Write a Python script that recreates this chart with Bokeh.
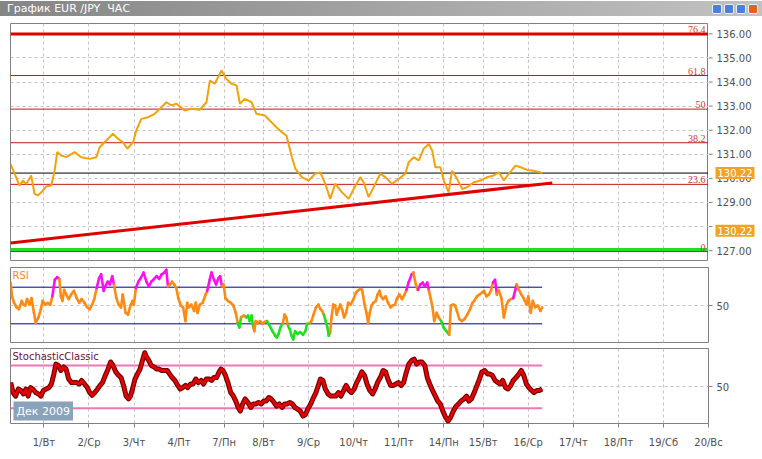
from bokeh.plotting import figure
from bokeh.models import (Range1d, FixedTicker, Label, LabelSet, ColumnDataSource, Div,
                          PrintfTickFormatter, Span, Grid)
from bokeh.layouts import column, row
from bokeh.core.properties import value
from bokeh.embed import file_html
from bokeh.resources import INLINE

FONT = "DejaVu Sans"

# ---------------- data ----------------
title_text = "График EUR /JPY&nbsp;&nbsp;ЧАС"
day_hours = [0, 24, 48, 72, 96, 117, 141, 165, 189, 213, 234, 258, 282, 306, 330, 354]
day_labels = ["1/Вт", "2/Ср", "3/Чт", "4/Пт", "7/Пн", "8/Вт", "9/Ср", "10/Чт", "11/Пт",
              "14/Пн", "15/Вт", "16/Ср", "17/Чт", "18/Пт", "19/Сб", "20/Вс"]
month_label = "Дек 2009"

price_hours = [-17.8, -15.6, -13.0, -11.2, -9.4, -6.8, -5.0, -3.2, -1.4, 1.2, 3.9, 5.7, 7.1, 9.2,
               11.9, 16.4, 19.9, 24.4, 27.9, 29.7, 33.2, 36.8, 39.5, 42.1, 44.4, 47.5, 49.2, 51.9,
               55.5, 59.0, 62.6, 65.2, 67.9, 70.6, 75.0, 78.6, 83.0, 86.6, 88.4, 91.0, 94.6, 97.2,
               99.9, 102.6, 104.4, 107.0, 110.6, 113.2, 117.7, 121.2, 123.9, 126.6, 129.2, 132.1,
               133.9, 137.4, 141.0, 144.5, 147.2, 149.9, 152.5, 155.2, 158.8, 162.3, 165.0, 168.5,
               170.3, 173.0, 176.5, 179.2, 181.9, 185.4, 189.0, 192.5, 194.3, 197.0, 199.6, 202.3,
               205.0, 206.8, 208.5, 211.2, 213.0, 215.6, 217.4, 220.1, 222.8, 225.4, 229.0, 232.5,
               236.1, 239.6, 242.3, 245.0, 247.6, 251.2, 253.9, 257.4, 260.9, 264.5, 265.6]
price_close = [130.60, 130.20, 129.70, 129.91, 129.77, 130.12, 129.36, 129.29, 129.42, 129.66,
               129.70, 130.32, 131.09, 130.95, 130.88, 131.09, 130.88, 130.81, 130.88, 131.29,
               131.57, 131.85, 131.64, 131.50, 131.23, 131.50, 131.99, 132.47, 132.54, 132.68,
               132.95, 133.16, 133.03, 133.10, 132.82, 132.89, 132.85, 133.16, 134.06, 133.93,
               134.48, 134.13, 133.93, 133.86, 133.10, 133.30, 133.16, 132.68, 132.61, 132.33,
               132.12, 131.92, 131.78, 130.88, 130.40, 130.05, 129.91, 130.19, 130.25, 129.77,
               129.15, 129.77, 129.42, 129.15, 129.56, 130.05, 129.84, 129.22, 129.77, 130.19,
               130.05, 129.77, 129.98, 130.19, 130.67, 130.88, 130.74, 131.23, 131.43, 131.16,
               130.46, 130.46, 129.91, 129.42, 130.32, 129.98, 129.56, 129.63, 129.84, 129.91,
               130.05, 130.12, 130.25, 129.91, 130.19, 130.53, 130.46, 130.35, 130.32, 130.25,
               130.22]
last_price = 130.22
marker_price = 127.83
price_ticks = [127, 128, 129, 130, 131, 132, 133, 134, 135, 136]

fib_levels = [0, 23.6, 38.2, 50, 61.8, 76.4]
fib_low, fib_high = 126.96, 138.79
support_hours = [-17.8, 270.8]
support_prices = [127.32, 129.81]
green_level = 127.05

rsi_hours = [-17.7, -17.0, -15.9, -14.6, -13.3, -11.8, -10.9, -9.9, -9.0, -7.7, -6.6, -5.3, -4.4,
             -2.9, -1.6, -0.7, 0.8, 2.1, 3.4, 4.5, 5.8, 7.1, 8.2, 9.0, 9.9, 10.8, 11.9, 13.2, 14.5,
             16.0, 17.5, 18.8, 20.1, 21.6, 23.1, 24.4, 25.7, 26.8, 28.1, 29.4, 30.5, 31.8, 32.7,
             34.0, 35.1, 36.4, 37.3, 38.6, 39.8, 41.1, 42.0, 43.5, 44.8, 46.1, 47.2, 47.9, 49.0,
             50.3, 51.6, 53.1, 54.6, 55.9, 57.2, 58.7, 60.1, 61.4, 62.7, 64.2, 65.2, 66.1, 67.2,
             68.3, 69.4, 70.5, 71.6, 72.9, 74.1, 75.4, 76.3, 77.2, 78.5, 80.0, 80.9, 81.8, 83.1,
             84.6, 86.1, 87.0, 88.3, 89.3, 90.6, 91.7, 93.0, 93.9, 94.8, 95.7, 96.7, 98.0, 99.5,
             100.9, 102.2, 103.2, 104.1, 105.0, 106.5, 107.8, 108.7, 109.6, 110.6, 111.5, 112.1,
             112.8, 113.9, 115.2, 116.5, 117.6, 118.9, 120.2, 121.7, 123.2, 124.1, 125.0, 126.0,
             127.3, 128.2, 129.1, 130.0, 131.0, 131.9, 132.8, 133.8, 135.1, 136.5, 138.0, 139.3,
             140.2, 141.4, 142.5, 143.6, 144.9, 146.2, 147.3, 148.2, 149.1, 150.1, 151.0, 151.7,
             152.5, 153.2, 154.1, 155.1, 156.0, 156.9, 157.8, 158.8, 159.9, 161.0, 162.1, 163.4,
             164.9, 166.2, 167.1, 168.4, 169.5, 170.8, 171.8, 172.7, 173.6, 174.5, 175.5, 176.8,
             177.7, 178.8, 179.5, 180.7, 182.0, 183.3, 184.7, 185.8, 187.0, 188.1, 189.4, 190.7,
             192.1, 193.1, 194.4, 195.9, 196.8, 198.1, 199.2, 200.5, 201.8, 202.9, 204.2, 205.1,
             206.1, 207.0, 207.9, 209.2, 210.3, 211.6, 212.9, 214.4, 215.9, 216.8, 218.1, 219.0,
             220.0, 221.3, 222.7, 224.0, 225.5, 227.0, 228.3, 229.2, 230.7, 232.0, 233.3, 234.4,
             235.7, 237.0, 238.1, 239.2, 240.3, 241.3, 242.2, 243.7, 245.0, 246.3, 247.4, 248.7,
             250.0, 251.1, 251.8, 253.0, 254.3, 255.5, 257.0, 258.0, 259.3, 260.4, 261.7, 263.0,
             264.5, 265.4]
rsi_values = [75, 60, 53, 48, 46, 55, 51, 50, 57, 51, 58, 42, 31, 37, 46, 55, 51, 53, 51, 60, 78,
              81, 79, 60, 55, 67, 62, 57, 62, 66, 58, 53, 57, 53, 48, 46, 51, 57, 69, 80, 84, 66,
              71, 76, 73, 82, 73, 58, 51, 48, 62, 42, 40, 50, 55, 51, 69, 76, 80, 86, 76, 71, 76,
              79, 82, 79, 84, 86, 89, 71, 73, 76, 73, 69, 58, 50, 48, 33, 53, 48, 51, 44, 53, 42,
              51, 53, 62, 66, 78, 86, 78, 73, 80, 82, 71, 73, 58, 55, 53, 50, 42, 31, 26, 37, 39,
              37, 39, 33, 39, 26, 22, 33, 31, 33, 30, 32, 33, 28, 22, 17, 15, 19, 26, 31, 40, 37,
              28, 24, 17, 13, 22, 19, 21, 18, 22, 30, 30, 33, 40, 48, 51, 46, 44, 40, 33, 26, 17,
              21, 37, 51, 50, 40, 46, 51, 46, 37, 42, 53, 51, 57, 64, 66, 68, 67, 51, 42, 31, 42,
              50, 53, 55, 62, 66, 60, 57, 60, 53, 48, 50, 51, 58, 62, 57, 62, 67, 76, 84, 86, 73,
              67, 73, 75, 71, 75, 66, 57, 48, 33, 42, 37, 33, 26, 22, 18, 50, 51, 50, 44, 35, 33,
              35, 40, 46, 53, 55, 60, 62, 64, 66, 60, 62, 66, 75, 78, 62, 67, 58, 37, 50, 55, 57,
              58, 67, 73, 67, 62, 58, 51, 60, 42, 55, 48, 50, 44, 48]
rsi_high_spans = [(4.1, 8.5), (28.1, 37.9), (49.4, 66.5), (86.8, 94.8), (193.1, 196.4),
                  (199.6, 205.0), (239.6, 241.4), (250.3, 252.1)]
rsi_low_spans = [(102.8, 105.4), (108.1, 111.6), (118.8, 127.5), (129.6, 141.0), (148.9, 152.5),
                 (211.2, 215.9)]
rsi_levels = [70, 30]

stoch_hours = [-17.7, -16.4, -15.1, -13.6, -12.2, -10.9, -9.6, -8.4, -7.1, -5.9, -4.4, -2.9, -1.6,
               -0.3, 1.2, 2.7, 4.0, 5.3, 6.4, 7.7, 9.0, 10.5, 11.8, 13.2, 14.7, 16.0, 17.5, 18.8,
               20.1, 21.6, 23.1, 24.4, 25.7, 27.1, 28.6, 29.9, 31.2, 32.7, 34.2, 35.5, 36.8, 38.3,
               39.8, 41.1, 42.4, 43.8, 45.1, 46.1, 47.2, 48.5, 49.8, 51.2, 52.7, 53.7, 54.6, 55.9,
               57.2, 58.7, 60.1, 61.4, 62.7, 64.2, 65.7, 67.0, 68.3, 69.8, 71.3, 72.6, 73.9, 75.4,
               76.6, 78.1, 79.4, 80.9, 82.2, 83.7, 85.0, 86.5, 88.0, 89.3, 90.5, 92.0, 93.3, 94.3,
               95.4, 96.7, 98.0, 99.5, 100.9, 102.2, 103.5, 104.6, 105.9, 107.2, 108.7, 110.2,
               111.5, 112.8, 114.3, 115.8, 117.1, 118.4, 119.8, 121.1, 122.6, 123.9, 125.4, 126.9,
               128.2, 129.5, 131.0, 132.4, 133.7, 135.0, 136.5, 138.0, 139.3, 140.6, 142.1, 143.6,
               144.9, 146.2, 147.3, 148.6, 149.9, 151.4, 152.8, 154.1, 155.4, 156.9, 158.2, 159.7,
               161.0, 162.5, 163.8, 165.3, 166.6, 168.0, 169.3, 170.8, 172.1, 173.6, 175.1, 176.4,
               177.7, 179.2, 180.7, 182.0, 183.2, 184.7, 186.2, 187.5, 188.8, 190.3, 191.6, 193.1,
               194.4, 195.9, 197.2, 198.6, 199.9, 201.4, 202.9, 204.2, 205.5, 207.0, 208.5, 209.8,
               211.1, 212.5, 214.0, 215.3, 216.6, 218.1, 219.6, 220.9, 222.2, 223.7, 225.1, 226.4,
               227.7, 229.2, 230.7, 232.0, 233.3, 234.8, 236.3, 237.6, 238.9, 240.3, 241.8, 243.1,
               244.4, 245.9, 247.2, 248.7, 250.0, 251.5, 253.0, 254.3, 255.6, 257.0, 258.3, 259.8,
               261.1, 262.6, 263.9, 265.4]
stoch_values = [56, 42, 37, 47, 45, 40, 47, 37, 49, 47, 42, 40, 37, 45, 47, 49, 54, 68, 82, 80, 73,
                78, 75, 61, 56, 56, 56, 54, 59, 54, 49, 42, 38, 42, 47, 52, 56, 66, 75, 85, 80, 71,
                66, 63, 52, 37, 33, 37, 47, 61, 68, 75, 89, 98, 92, 87, 80, 78, 75, 75, 73, 73, 73,
                68, 63, 59, 52, 47, 49, 52, 49, 54, 54, 61, 56, 59, 54, 61, 61, 59, 63, 63, 71, 75,
                73, 66, 56, 42, 37, 30, 21, 16, 26, 33, 28, 21, 26, 26, 28, 26, 30, 30, 35, 33, 28,
                23, 26, 21, 26, 26, 28, 26, 21, 19, 16, 9, 11, 19, 26, 35, 42, 52, 61, 59, 47, 40,
                37, 37, 37, 42, 37, 45, 52, 45, 42, 47, 56, 63, 71, 66, 54, 45, 40, 47, 56, 63, 73,
                71, 61, 52, 52, 54, 56, 52, 56, 71, 82, 87, 89, 82, 85, 85, 80, 63, 54, 45, 37, 30,
                26, 16, 7, 2, 7, 16, 23, 26, 30, 33, 37, 30, 33, 42, 52, 61, 71, 73, 68, 68, 66, 59,
                56, 54, 59, 49, 47, 52, 59, 63, 68, 73, 66, 54, 49, 45, 42, 45, 45, 47]
stoch_levels = [80, 20]

# ---------------- styling helpers ----------------
X_START, X_END = -17.8, 354
GRID_COLOR = "#c4c4c4"
AXIS_TEXT = "#505050"
LEFT = 10
RIGHT = 54


def style_fig(f):
    f.outline_line_color = "#808080"
    f.outline_line_width = 1
    f.background_fill_color = "white"
    f.border_fill_color = "white"
    f.grid.visible = False
    f.add_layout(Grid(dimension=0, ticker=FixedTicker(ticks=day_hours),
                      grid_line_color=GRID_COLOR, grid_line_dash="3 3"))


def style_axis(ax):
    ax.axis_line_color = None
    ax.major_tick_in = 0
    ax.major_tick_out = 4
    ax.major_tick_line_color = "#808080"
    ax.minor_tick_line_color = None
    ax.major_label_text_font = FONT
    ax.major_label_text_font_size = "10px"
    ax.major_label_text_color = AXIS_TEXT


x_range = Range1d(X_START, X_END)

# ---------------- price panel ----------------
price_range = Range1d(126.59, 136.43)
p = figure(width=762 - RIGHT, height=246, x_range=x_range, y_range=price_range,
           x_axis_location=None, y_axis_location=None, toolbar_location=None,
           output_backend="svg", min_border_left=LEFT, min_border_right=0,
           min_border_top=6, min_border_bottom=3)
style_fig(p)
p.add_layout(Grid(dimension=1, ticker=FixedTicker(ticks=price_ticks),
                  grid_line_color=GRID_COLOR, grid_line_dash="3 3"))

fib_prices = [fib_low + lv / 100.0 * (fib_high - fib_low) for lv in fib_levels]
for lv, fp in zip(fib_levels, fib_prices):
    thick = lv == max(fib_levels)
    p.add_layout(Span(location=fp, dimension="width", level="underlay",
                      line_color="#e00000" if thick else "#c01818",
                      line_width=3 if thick else 1))
p.add_layout(Span(location=green_level, dimension="width", level="underlay",
                  line_color="#22dd22", line_width=3))
p.add_layout(Span(location=last_price, dimension="width", level="underlay",
                  line_color="black", line_width=1))

fib_src = ColumnDataSource(dict(x=[X_END] * len(fib_levels), y=fib_prices,
                                text=[f"{lv:g}" for lv in fib_levels]))
p.add_layout(LabelSet(x="x", y="y", text="text", source=fib_src, x_offset=-3, y_offset=1,
                      text_align="right", text_baseline="bottom", text_color="#cc3a3a",
                      text_font=FONT, text_font_size="10px"))

p.line(price_hours, price_close, line_color="#f0a30a", line_width=2)
p.line(support_hours, support_prices, line_color="#e00000", line_width=3)

# side strip carrying the price scale and the price boxes
box_prices = [last_price, marker_price]
label_ticks = [t for t in price_ticks if abs(t - marker_price) > 0.3]
side = figure(width=RIGHT, height=246, x_range=Range1d(0, RIGHT), y_range=price_range,
              x_axis_location=None, y_axis_location=None, toolbar_location=None,
              output_backend="svg", min_border_left=0, min_border_right=0,
              min_border_top=6, min_border_bottom=3)
side.outline_line_color = None
side.grid.visible = False
side.background_fill_color = "white"
side.border_fill_color = "white"
side.segment(x0=[0] * len(price_ticks), x1=[4] * len(price_ticks), y0=price_ticks,
             y1=price_ticks, line_color="#808080", line_width=1)
side.text(x=[8] * len(label_ticks), y=label_ticks, text=[f"{t:.2f}" for t in label_ticks],
          text_baseline="middle", text_align="left", text_color=AXIS_TEXT,
          text_font=value(FONT), text_font_size="10px")
side.text(x=[7] * 2, y=box_prices, text=[f"{last_price:.2f}"] * 2,
          text_baseline="middle", text_align="left", text_color="white",
          text_font=value(FONT), text_font_size="10px",
          background_fill_color="#f2a321", padding=2)

# ---------------- RSI panel ----------------
r = figure(width=762, height=82, x_range=x_range, y_range=Range1d(9.6, 91.5),
           x_axis_location=None, y_axis_location="right", toolbar_location=None,
           output_backend="svg", min_border_left=LEFT, min_border_right=RIGHT,
           min_border_top=4, min_border_bottom=3)
style_fig(r)
r.add_layout(Grid(dimension=1, ticker=FixedTicker(ticks=[50]),
                  grid_line_color=GRID_COLOR, grid_line_dash="3 3"))
style_axis(r.yaxis[0])
r.yaxis.ticker = FixedTicker(ticks=[50])
r.yaxis.formatter = PrintfTickFormatter(format="%d")
r.yaxis.major_label_standoff = 4
r.segment(x0=[rsi_hours[0]] * 2, x1=[rsi_hours[-1]] * 2, y0=rsi_levels, y1=rsi_levels,
          line_color="#000090", line_width=1)


def in_spans(h, spans):
    return any(a <= h <= b for a, b in spans)


seg_colors = []
for i in range(len(rsi_hours) - 1):
    mid = (rsi_hours[i] + rsi_hours[i + 1]) / 2
    if in_spans(mid, rsi_high_spans):
        seg_colors.append("#ff10f0")
    elif in_spans(mid, rsi_low_spans):
        seg_colors.append("#20e020")
    else:
        seg_colors.append("#ff8a14")
rsi_src = ColumnDataSource(dict(x0=rsi_hours[:-1], x1=rsi_hours[1:], y0=rsi_values[:-1],
                                y1=rsi_values[1:], c=seg_colors))
r.segment(x0="x0", y0="y0", x1="x1", y1="y1", line_color="c", line_width=2.6,
          line_cap="round", source=rsi_src)
r.add_layout(Label(x=X_START, y=91.5, x_offset=2, y_offset=-2, text="RSI",
                   text_baseline="top", text_color="#f08a3c", text_font=FONT,
                   text_font_size="10px"))

# ---------------- Stochastic panel ----------------
s = figure(width=762, height=110, x_range=x_range, y_range=Range1d(-1.5, 103.9),
           x_axis_location="below", y_axis_location="right", toolbar_location=None,
           output_backend="svg", min_border_left=LEFT, min_border_right=RIGHT,
           min_border_top=3, min_border_bottom=32)
style_fig(s)
s.add_layout(Grid(dimension=1, ticker=FixedTicker(ticks=[50]),
                  grid_line_color=GRID_COLOR, grid_line_dash="3 3"))
style_axis(s.yaxis[0])
s.yaxis.ticker = FixedTicker(ticks=[50])
s.yaxis.formatter = PrintfTickFormatter(format="%d")
s.yaxis.major_label_standoff = 4
xa = s.xaxis[0]
style_axis(xa)
xa.ticker = FixedTicker(ticks=day_hours)
xa.major_label_overrides = {h: lab for h, lab in zip(day_hours, day_labels)}
xa.major_label_standoff = 9

s.segment(x0=[stoch_hours[0]] * 2, x1=[stoch_hours[-1]] * 2, y0=stoch_levels, y1=stoch_levels,
          line_color="#f274b4", line_width=2)
s.line(stoch_hours, stoch_values, line_color="#6e0000", line_width=5, line_join="round")
s.line(stoch_hours, stoch_values, line_color="#e80000", line_width=2.6, line_join="round")
s.add_layout(Label(x=X_START, y=103.9, x_offset=2, y_offset=-2, text="StochasticClassic",
                   text_baseline="top", text_color="#6a1040", text_font=FONT,
                   text_font_size="10px"))
s.add_layout(Label(x=X_START, y=-1.5, x_offset=3, y_offset=3, text=month_label,
                   text_baseline="bottom", text_align="left", text_color="white",
                   text_font=FONT, text_font_size="11px",
                   background_fill_color="#8ba2bb", padding=3))

# ---------------- title bar / bottom strip ----------------
btn = ('<span style="display:inline-block;width:10px;height:10px;margin-left:2px;'
       'border:1px solid #e8eef8;border-radius:2px;background:{c}"></span>')
buttons = "".join(btn.format(c=c) for c in ("#4f7fd0", "#4f7fd0", "#4f7fd0", "#e0602a"))
title_html = (
    '<div style="width:762px;height:17px;background:white">'
    '<div style="width:762px;height:15px;box-sizing:border-box;display:flex;'
    'justify-content:space-between;align-items:center;padding:0 4px 0 7px;'
    'background:linear-gradient(to right,#858585,#c2c2c2);color:white;'
    f'font-family:\'{FONT}\';font-size:11px;line-height:15px;white-space:nowrap">'
    f'<span>{title_text}</span><span style="display:flex">{buttons}</span></div></div>')
title = Div(text=title_html, width=762, height=17, margin=0)
bottom = Div(text='<div style="width:762px;height:4px;background:#ece9d8;'
                  'border-top:1px solid #555;box-sizing:border-box"></div>',
             width=762, height=4, margin=0)

layout = column(title, row(p, side, spacing=0), r, s, bottom, spacing=0)
open("out.html", "w").write(file_html(layout, INLINE))
